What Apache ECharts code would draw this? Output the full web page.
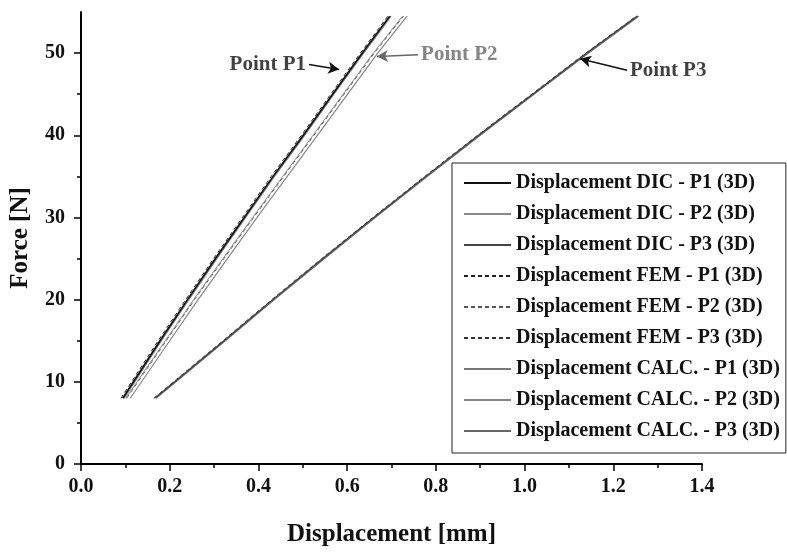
<!DOCTYPE html>
<html>
<head>
<meta charset="utf-8">
<script src="https://cdn.jsdelivr.net/npm/echarts@6/dist/echarts.min.js"></script>
<style>
  html, body { margin: 0; padding: 0; background: #fff; }
  #chart { width: 787px; height: 552px; }
</style>
</head>
<body>
<div id="chart"></div>
<script>
// force levels shared by all curves [N]
var forceLevels = [8, 15, 20, 25, 30, 35, 40, 45, 50, 54.5];

// displacement [mm], one array per curve
var dicP1  = [0.094, 0.178, 0.240, 0.303, 0.368, 0.433, 0.501, 0.567, 0.634, 0.696];
var dicP2  = [0.101, 0.190, 0.254, 0.320, 0.387, 0.455, 0.523, 0.591, 0.659, 0.725];
var dicP3  = [0.166, 0.322, 0.432, 0.545, 0.660, 0.777, 0.896, 1.018, 1.140, 1.254];
var femP1  = [0.090, 0.174, 0.236, 0.299, 0.364, 0.429, 0.497, 0.563, 0.630, 0.692];
var femP2  = [0.103, 0.192, 0.256, 0.322, 0.389, 0.457, 0.525, 0.593, 0.661, 0.727];
var femP3  = [0.164, 0.320, 0.430, 0.543, 0.658, 0.775, 0.894, 1.016, 1.138, 1.252];
var calcP1 = [0.097, 0.181, 0.243, 0.306, 0.371, 0.436, 0.504, 0.570, 0.637, 0.699];
var calcP2 = [0.111, 0.200, 0.264, 0.330, 0.397, 0.465, 0.533, 0.601, 0.669, 0.735];
var calcP3 = [0.169, 0.325, 0.435, 0.548, 0.663, 0.780, 0.899, 1.021, 1.143, 1.257];

var seriesNames = [
  'Displacement DIC - P1 (3D)',
  'Displacement DIC - P2 (3D)',
  'Displacement DIC - P3 (3D)',
  'Displacement FEM - P1 (3D)',
  'Displacement FEM - P2 (3D)',
  'Displacement FEM - P3 (3D)',
  'Displacement CALC. - P1 (3D)',
  'Displacement CALC. - P2 (3D)',
  'Displacement CALC. - P3 (3D)'
];
var seriesValues = [dicP1, dicP2, dicP3, femP1, femP2, femP3, calcP1, calcP2, calcP3];

// annotations: text, arrow start (near text), arrow tip (on curve)
var annotNames = ['Point P1', 'Point P2', 'Point P3'];
var arrowFrom = [[0.514, 48.6], [0.760, 49.8], [1.231, 47.9]];
var arrowTo   = [[0.582, 48.0], [0.667, 49.6], [1.125, 49.3]];

var yTicks = [0, 10, 20, 30, 40, 50];
var yMinorTicks = [5, 15, 25, 35, 45];

var serif = '"Liberation Serif", "DejaVu Serif", serif';

var lineStyles = [
  { color: '#111', width: 1.6, type: 'solid' },
  { color: '#8a8a8a', width: 1, type: 'solid' },
  { color: '#444', width: 1.2, type: 'solid' },
  { color: '#222', width: 1, type: [4, 3] },
  { color: '#555', width: 1, type: [4, 3] },
  { color: '#333', width: 1, type: [4, 3] },
  { color: '#777', width: 1.4, type: 'solid' },
  { color: '#888', width: 1.2, type: 'solid' },
  { color: '#666', width: 1.6, type: 'solid' }
];
var drawOrder = [6, 7, 8, 3, 4, 5, 0, 1, 2];

var series = seriesNames.map(function (name, i) {
  return {
    name: name,
    type: 'line',
    symbol: 'none',
    smooth: false,
    z: 2 + drawOrder.indexOf(i),
    itemStyle: { color: lineStyles[i].color },
    lineStyle: lineStyles[i],
    data: forceLevels.map(function (f, k) { return [seriesValues[i][k], f]; })
  };
});

var annotColors = ['#111', '#666', '#111'];
var annotPos = ['left', 'right', 'right'];

series.push({
  name: 'annotations',
  type: 'scatter',
  symbolSize: 0,
  silent: true,
  z: 20,
  data: annotNames.map(function (n, i) {
    return {
      name: n,
      value: arrowFrom[i],
      label: { show: true, position: annotPos[i], distance: 3, color: annotColors[i] }
    };
  }),
  label: {
    show: true,
    formatter: '{b}',
    fontFamily: serif,
    fontWeight: 'bold',
    fontSize: 21
  },
  markLine: {
    silent: true,
    symbol: ['none', 'arrow'],
    symbolSize: [9, 11],
    label: { show: false },
    data: annotNames.map(function (n, i) {
      return [
        { coord: arrowFrom[i], lineStyle: { color: annotColors[i], width: 1.5, type: 'solid' } },
        { coord: arrowTo[i] }
      ];
    })
  }
});

var chart = echarts.init(document.getElementById('chart'));

var option = {
  backgroundColor: '#fff',
  animation: false,
  grid: { left: 81, right: 85, top: 12, bottom: 85, containLabel: false },
  legend: {
    data: seriesNames,
    orient: 'vertical',
    left: 452,
    top: 163,
    padding: [10, 6, 12, 11],
    itemWidth: 47,
    itemHeight: 18,
    itemGap: 11,
    borderColor: '#222',
    borderWidth: 1,
    backgroundColor: '#fff',
    selectedMode: false,
    itemStyle: { opacity: 0 },
    textStyle: {
      fontFamily: serif,
      fontWeight: 'bold',
      fontSize: 20,
      color: '#111',
      lineHeight: 18
    }
  },
  xAxis: {
    type: 'value',
    min: 0,
    max: 1.4,
    interval: 0.2,
    name: 'Displacement [mm]',
    nameLocation: 'middle',
    nameGap: 58,
    nameTextStyle: { fontFamily: serif, fontWeight: 'bold', fontSize: 25, color: '#111' },
    axisLine: { show: true, lineStyle: { color: '#000', width: 2 } },
    axisTick: { show: true, length: 7, lineStyle: { color: '#000', width: 1.5 } },
    minorTick: { show: true, splitNumber: 2, length: 4, lineStyle: { color: '#000', width: 1.5 } },
    splitLine: { show: false },
    axisLabel: {
      margin: 13,
      fontFamily: serif,
      fontWeight: 'bold',
      fontSize: 20,
      color: '#111',
      formatter: function (v) { return v.toFixed(1); }
    }
  },
  yAxis: [
    {
      type: 'value',
      min: 0,
      max: 55,
      interval: 10,
      name: 'Force [N]',
      nameLocation: 'middle',
      nameGap: 48,
      nameTextStyle: { fontFamily: serif, fontWeight: 'bold', fontSize: 25, color: '#111' },
      axisLine: { show: true, lineStyle: { color: '#000', width: 2 } },
      axisTick: { show: true, length: 7, customValues: yTicks, lineStyle: { color: '#000', width: 1.5 } },
      splitLine: { show: false },
      axisLabel: {
        margin: 16,
        customValues: yTicks,
        fontFamily: serif,
        fontWeight: 'bold',
        fontSize: 20,
        color: '#111'
      }
    },
    {
      type: 'value',
      min: 0,
      max: 55,
      interval: 10,
      position: 'left',
      axisLine: { show: false },
      axisTick: { show: true, length: 4, customValues: yMinorTicks, lineStyle: { color: '#000', width: 1.5 } },
      splitLine: { show: false },
      axisLabel: { show: false }
    }
  ],
  series: series
};

chart.setOption(option);
</script>
</body>
</html>
